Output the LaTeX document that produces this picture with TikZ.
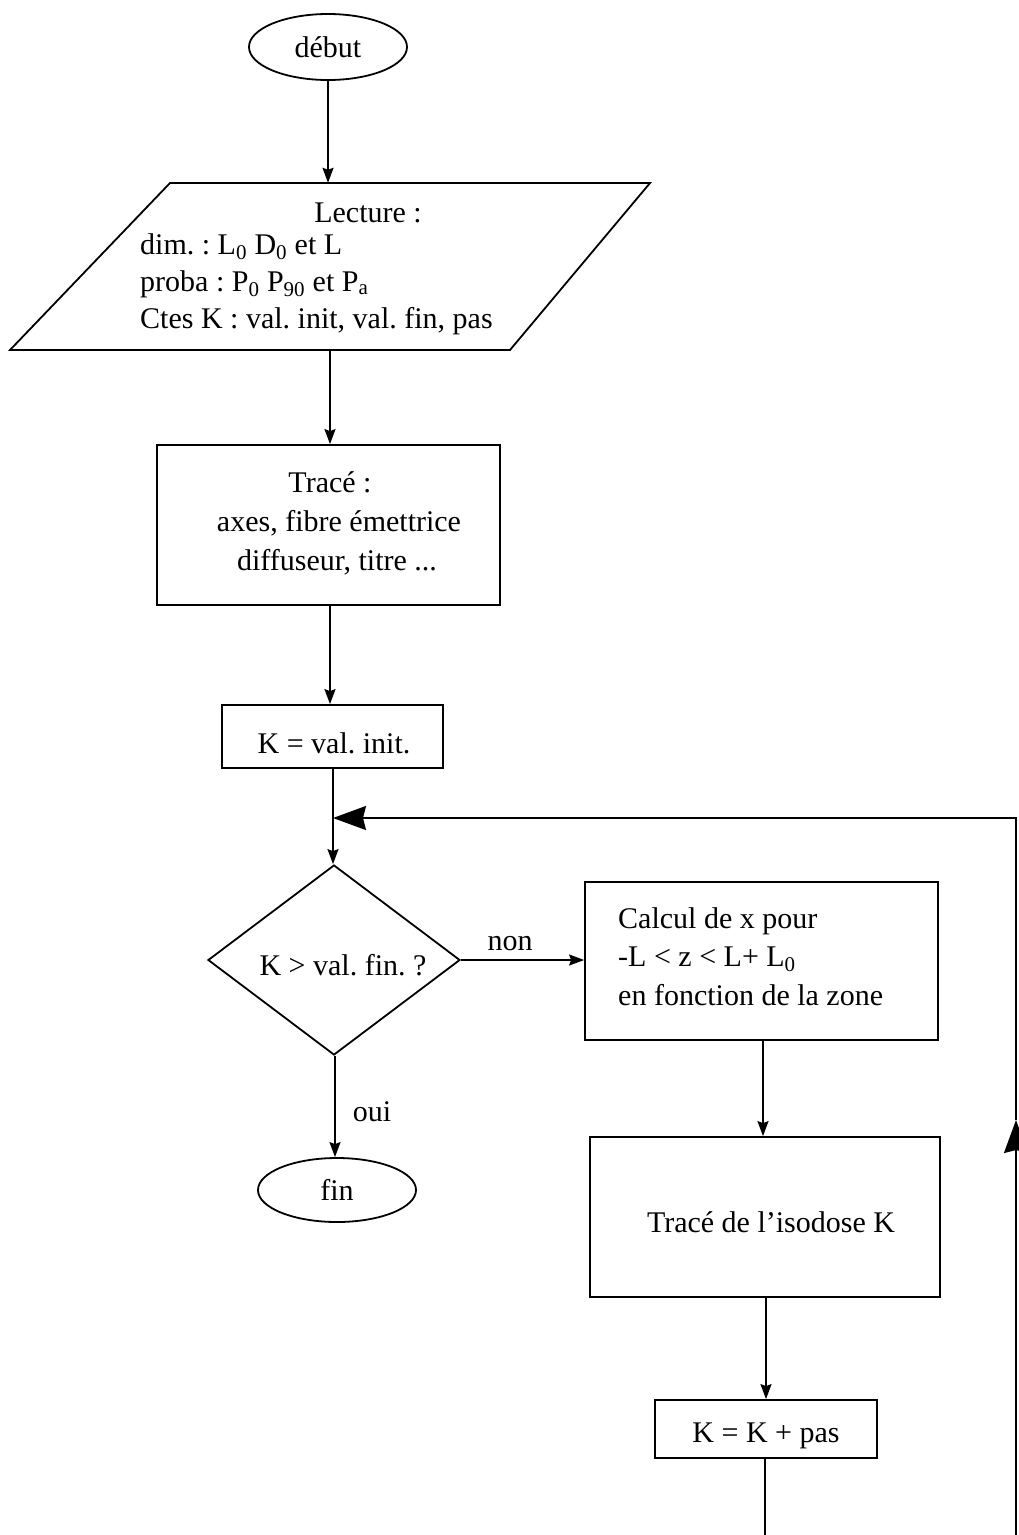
\documentclass[tikz,border=0pt]{standalone}
\usepackage{fontspec}
\setmainfont{Liberation Serif}
\usetikzlibrary{shapes.geometric,arrows.meta}
\newcommand{\sbs}[1]{\textsubscript{#1}}
\begin{document}
\frenchspacing
\begin{tikzpicture}[x=1pt,y=-1pt,
  every node/.style={font=\fontsize{30}{39}\selectfont, inner sep=0pt},
  terminal/.style={draw, ellipse, line width=1.8pt, minimum width=158pt, minimum height=66pt},
  procbox/.style={draw, rectangle, line width=1.8pt},
  decision/.style={draw, diamond, line width=1.8pt, minimum width=252pt, minimum height=190pt},
  flow/.style={line width=1.8pt, -{Stealth[length=15pt,width=11pt,inset=2pt]}},
  plain/.style={line width=1.8pt},
  bigflow/.style={line width=1.8pt, -{Stealth[length=33pt,width=24pt,inset=3pt]}},
  txt/.style={anchor=base},
  txtl/.style={anchor=base west},
]
\useasboundingbox[fill=white] (0,0) rectangle (1019,1535);

% start
\node[terminal] (debut) at (328,47) {début};

% input parallelogram
\node[minimum width=320pt, minimum height=167pt] (lect) at (330,266.5) {};
\draw[plain] (170,183) -- (650,183) -- (510,350) -- (10,350) -- cycle;
\node[txt] (lt0) at (368,222) {Lecture :};
\node[txtl] (lt1) at (140,254) {dim. : L\sbs{0} D\sbs{0} et L};
\node[txtl] (lt2) at (140,291) {proba : P\sbs{0} P\sbs{90} et P\sbs{a}};
\node[txtl] (lt3) at (140,328) {Ctes K : val. init, val. fin, pas};

% trace box
\node[procbox, minimum width=343pt, minimum height=160pt] (trace) at (328.5,525) {};
\node[txt] (tr1) at (330,492) {Tracé :};
\node[txt] (tr2) at (339,531) {axes, fibre émettrice};
\node[txt] (tr3) at (337,570) {diffuseur, titre ...};

% K init
\node[procbox, minimum width=221pt, minimum height=63pt] (kinit) at (332.5,736.5) {};
\node[txt] (kinitT) at (334,753) {K = val. init.};

% decision
\node[decision] (dec) at (334,960) {};
\node[txt] (decT) at (343,975) {K > val. fin. ?};

% calcul box
\node[procbox, minimum width=353pt, minimum height=158pt] (calc) at (761.5,961) {};
\node[txtl] (c1) at (618,928) {Calcul de x pour};
\node[txtl] (c2) at (618,966) {-L < z < L+ L\sbs{0}};
\node[txtl] (c3) at (618,1005) {en fonction de la zone};

% isodose box
\node[procbox, minimum width=350pt, minimum height=160pt] (iso) at (765,1217) {};
\node[txt] (isoT) at (771,1232) {Tracé de l’isodose K};

% K = K + pas
\node[procbox, minimum width=222pt, minimum height=58pt] (kpas) at (766,1429) {};
\node[txt] (kpasT) at (766,1442) {K = K + pas};

% end
\node[terminal, minimum height=64pt] (fin) at (337,1190) {fin};

% connectors
\draw[flow] (debut.south) -- (debut.south |- lect.north);
\draw[flow] (lect.south) -- (lect.south |- trace.north);
\draw[flow] (trace.south -| 330,0) -- (330,0 |- kinit.north);
\coordinate (junc) at (333,818);
\draw[flow] (kinit.south -| junc) -- (junc |- dec.north);
\draw[flow] (dec.east) -- node[pos=0.4, above=10pt, anchor=base] (non) {non} (calc.west |- dec.east);
\draw[flow] (calc.south -| 763,0) -- (763,0 |- iso.north);
\draw[flow] (iso.south -| kpas.north) -- (kpas.north);
\coordinate (dbot) at (335,0);
\draw[flow] (dec.south -| dbot) -- node[pos=0.55, right=17pt] (oui) {oui} (dbot |- fin.north);

% loop back
\coordinate (b1) at (765,1535);
\coordinate (b2) at (1016,1535);
\coordinate (rmid) at (1016,1120);
\coordinate (rtop) at (1016,818);
\draw[plain] (kpas.south -| b1) -- (b1);
\draw[bigflow] (b2) -- (rmid);
\draw[bigflow] (rmid) -- (rtop) -- (junc);
\end{tikzpicture}
\end{document}
